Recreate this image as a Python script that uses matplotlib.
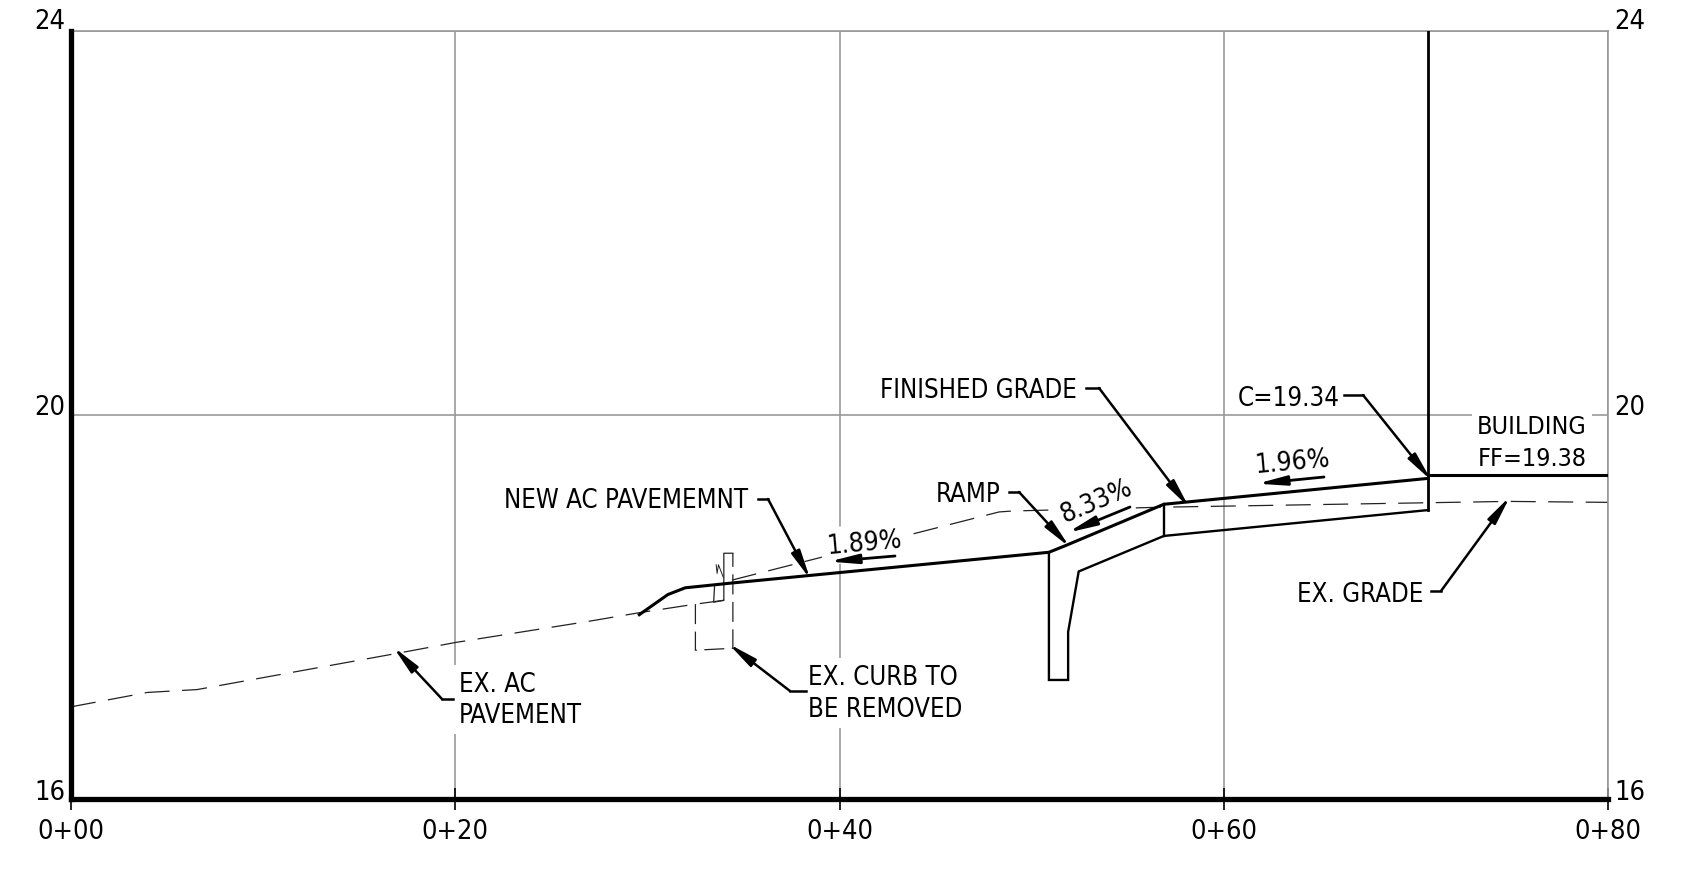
import math
import matplotlib
matplotlib.use("Agg")
import matplotlib.pyplot as plt
from matplotlib.transforms import Affine2D

plt.rcParams['font.family'] = ['DejaVu Sans']
plt.rcParams['font.stretch'] = 'condensed'

# stations (ft) and elevations
finished_sta = [29.58, 31.07, 31.97, 34.4, 50.9, 51.77, 56.88, 70.65]
finished_elev = [17.92, 18.13, 18.2, 18.25, 18.57, 18.64, 19.07, 19.34]
building_sta = [70.65, 80.0]
building_elev = [19.38, 19.38]
wall_sta = [70.65, 70.65]
wall_elev = [24.0, 19.01]
ramp_under_sta = [70.65, 56.88, 52.45, 51.9, 51.9, 50.9, 50.9]
ramp_under_elev = [19.01, 18.74, 18.37, 17.74, 17.24, 17.24, 18.57]
joint_sta = [56.88, 56.88]
joint_elev = [19.07, 18.74]
ex_grade_sta = [0.0, 3.98, 6.57, 17.05, 20.0, 26.92, 29.56, 32.5, 34.0]
ex_grade_elev = [16.96, 17.11, 17.14, 17.52, 17.63, 17.85, 17.94, 18.03, 18.07]
ex_grade2_sta = [34.4, 48.3, 49.0, 56.88, 74.8, 80.0]
ex_grade2_elev = [18.28, 18.99, 19.0, 19.04, 19.1, 19.09]
curb_dash_sta = [32.5, 32.5, 34.45, 34.45]
curb_dash_elev = [18.03, 17.55, 17.57, 18.56]
curb_top_sta = [34.45, 33.98, 33.98, 33.45, 33.5]
curb_top_elev = [18.56, 18.56, 18.07, 18.05, 18.23]
zigzag_sta = [33.58, 33.63, 33.7, 33.95]
zigzag_elev = [18.44, 18.35, 18.44, 18.31]

x_ticks = [0, 20, 40, 60, 80]
x_labels = ['0+00', '0+20', '0+40', '0+60', '0+80']
y_ticks = [16, 20, 24]

fig = plt.figure(figsize=(16.88, 8.78), dpi=100)
ax = fig.add_axes([71 / 1688, 1 - 800 / 878, (1608 - 71) / 1688, (800 - 32) / 878])
ax.set_xlim(0, 80)
ax.set_ylim(16, 24)
ax.set_xticks(x_ticks)
ax.set_xticklabels([])
ax.set_yticks(y_ticks)
ax.set_yticklabels([])
ax.tick_params(axis='y', length=0)
ax.tick_params(axis='x', direction='inout', length=16, width=1.2, color='black')
ax.grid(color='#999999', linewidth=1.2, zorder=1)
ax.set_axisbelow(True)
for side in ['top', 'right']:
    ax.spines[side].set_color('#999999')
    ax.spines[side].set_linewidth(1.2)
for side in ['left', 'bottom']:
    ax.spines[side].set_color('black')
    ax.spines[side].set_linewidth(3.8)
    ax.spines[side].set_zorder(6)

# existing ground, thin and dashed
dash = (0, (20, 10))
ax.plot(ex_grade_sta, ex_grade_elev, color='#222222', lw=0.9, ls=dash, zorder=2)
ax.plot(ex_grade2_sta, ex_grade2_elev, color='#222222', lw=0.9, ls=dash, zorder=2)
ax.plot(curb_dash_sta, curb_dash_elev, color='#222222', lw=0.9, ls=(0, (16, 6)), zorder=2)
ax.plot(curb_top_sta, curb_top_elev, color='#222222', lw=0.9, zorder=5)
ax.plot(zigzag_sta, zigzag_elev, color='#222222', lw=0.7, zorder=5)

# new work
ax.plot(finished_sta, finished_elev, color='black', lw=2.2, zorder=5, solid_joinstyle='miter')
ax.plot(building_sta, building_elev, color='black', lw=2.2, zorder=5)
ax.plot(wall_sta, wall_elev, color='black', lw=2.0, zorder=5)
ax.plot(ramp_under_sta, ramp_under_elev, color='black', lw=1.7, zorder=5, solid_joinstyle='miter')
ax.plot(joint_sta, joint_elev, color='black', lw=1.7, zorder=5)

# annotations are placed in image pixels
px = Affine2D().scale(1, -1).translate(0, 878)
WHITE = dict(facecolor='white', edgecolor='none', pad=4)


def label(x, y, s, ha='left', size=18.5, rot=0, box=True, z=3):
    ax.text(x, y + 3, s, transform=px, ha=ha, va='center', fontsize=size, rotation=rot,
            rotation_mode='anchor', color='black', zorder=z, clip_on=False,
            bbox=WHITE if box else None)


def leader(points):
    xs = [p[0] for p in points[:-1]]
    ys = [p[1] for p in points[:-1]]
    ax.plot(xs, ys, color='black', lw=1.8, transform=px, zorder=7, clip_on=False)
    arrow(points[-2], points[-1], 1.8)


def arrow(start, end, lw):
    # the arrow head stops short of its target, so push the target on a little
    d = math.hypot(end[0] - start[0], end[1] - start[1])
    tip = (end[0] + 7 * (end[0] - start[0]) / d, end[1] + 7 * (end[1] - start[1]) / d)
    ax.annotate('', xy=tip, xytext=start, xycoords=px, textcoords=px, zorder=7,
                arrowprops=dict(arrowstyle='-|>,head_length=1.7,head_width=0.28', color='black',
                                lw=lw, shrinkA=0, shrinkB=0, mutation_scale=10))


for t, s in zip(x_ticks, x_labels):
    label(71 + t * 19.2125, 829, s, ha='center', size=19.5, box=False)
for side_x in [50, 1630]:
    label(side_x, 19, '24', ha='center', size=19.5, box=False)
    label(side_x, 405, '20', ha='center', size=19.5, box=False)
    label(side_x, 790, '16', ha='center', size=19.5, box=False)

label(459, 682, 'EX. AC')
label(459, 713, 'PAVEMENT')
label(748, 498, 'NEW AC PAVEMEMNT', ha='right', box=False)
label(808, 675, 'EX. CURB TO')
label(808, 707, 'BE REMOVED')
label(1001, 492, 'RAMP', ha='right', box=False)
label(1077, 388, 'FINISHED GRADE', ha='right', box=False)
label(1340, 396, 'C=19.34', ha='right', box=False)
label(1532, 424, 'BUILDING', ha='center', size=18)
label(1532, 456, 'FF=19.38', ha='center', size=18)
label(1423, 592, 'EX. GRADE', ha='right', box=False)
label(864, 541, '1.89%', ha='center', size=19, rot=5)
label(1096, 499, '8.33%', ha='center', size=19, rot=23)
label(1292, 460, '1.96%', ha='center', size=19, rot=5, box=False)

leader([(758, 500), (768, 500), (807, 574)])
leader([(806, 692), (790, 692), (734, 649)])
leader([(1009, 493), (1019, 493), (1065, 543)])
leader([(1086, 389), (1099, 389), (1185, 503)])
leader([(1344, 396), (1363, 396), (1427, 476)])
leader([(1431, 592), (1441, 592), (1506, 503)])
leader([(453, 700), (442, 700), (398, 653)])

arrow((895, 557), (836, 562), 2.0)
arrow((1130, 508), (1074, 531), 2.0)
arrow((1324, 478), (1264, 484), 2.0)

fig.savefig('out.png', dpi=100)
